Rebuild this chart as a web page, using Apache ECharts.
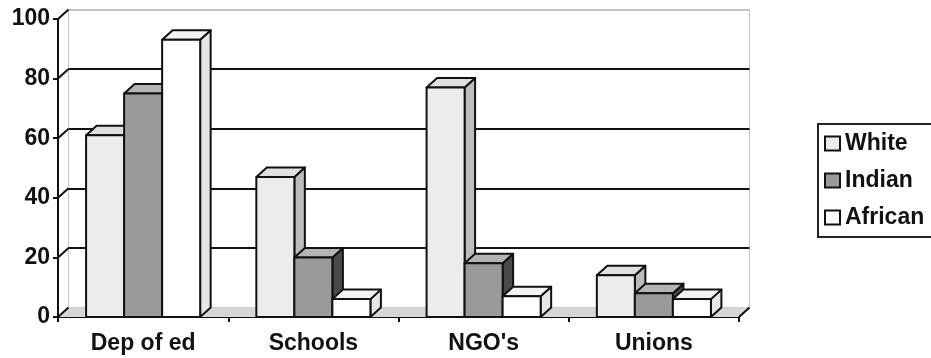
<!DOCTYPE html>
<html>
<head>
<meta charset="utf-8">
<script src="https://cdn.jsdelivr.net/npm/echarts@6/dist/echarts.min.js"></script>
<style>html,body{margin:0;padding:0;background:#fff}#c{width:931px;height:358px}</style>
</head>
<body>
<div id="c"></div>
<script>
// ---- data ----
var categories = ["Dep of ed", "Schools", "NGO's", "Unions"];
var white   = [61, 47, 77, 14];
var indian  = [75, 20, 18, 8];
var african = [93, 6, 7, 6];
var yTicks  = [0, 20, 40, 60, 80, 100];
var seriesNames = ["White", "Indian", "African"];

// ---- styling ----
var FONT = "'Liberation Sans', Arial, sans-serif";
var DX = 10.5, DY = 9.5;
var faces = [
  {front: '#ececec', top: '#e0e0e0', side: '#bcbcbc'},
  {front: '#9a9a9a', top: '#b4b4b4', side: '#4a4a4a'},
  {front: '#ffffff', top: '#f3f3f3', side: '#e6e6e6'}
];
var GROUP = 0.67;

function barRenderer(s) {
  return function (params, api) {
    var cat = api.value(0), val = api.value(1);
    var band = api.size([1, 0])[0];
    var gw = band * GROUP, bw = gw / 3;
    var base = api.coord([cat, 0]);
    var topP = api.coord([cat, val]);
    var x0 = base[0] - gw / 2 + s * bw;
    var yT = topP[1], yB = base[1];
    var f = faces[s];
    var st = {stroke: '#111', lineWidth: 2, lineJoin: 'round'};
    return {
      type: 'group',
      children: [
        {type: 'polygon', shape: {points: [[x0 + bw, yT], [x0 + bw + DX, yT - DY], [x0 + bw + DX, yB - DY], [x0 + bw, yB]]},
          style: Object.assign({fill: f.side}, st)},
        {type: 'polygon', shape: {points: [[x0, yT], [x0 + DX, yT - DY], [x0 + bw + DX, yT - DY], [x0 + bw, yT]]},
          style: Object.assign({fill: f.top}, st)},
        {type: 'rect', shape: {x: x0, y: yT, width: bw, height: yB - yT},
          style: Object.assign({fill: f.front}, st)}
      ]
    };
  };
}

var datasets = [white, indian, african];
var barSeries = datasets.map(function (arr, s) {
  return {
    name: seriesNames[s], type: 'custom', coordinateSystem: 'cartesian2d',
    xAxisIndex: 0, yAxisIndex: 0, z: 5,
    itemStyle: {color: faces[s].front},
    renderItem: barRenderer(s),
    data: arr.map(function (v, i) { return [i, v]; })
  };
});

var chart = echarts.init(document.getElementById('c'), null, {renderer: 'canvas'});
chart.setOption({
  animation: false,
  backgroundColor: '#fff',
  grid: [
    {left: 58, top: 19, width: 681, height: 298, containLabel: false},
    {left: 58 + DX, top: 19 - DY, width: 681, height: 298, show: true,
      borderColor: '#c4c4c4', borderWidth: 1, backgroundColor: 'transparent'}
  ],
  xAxis: [
    {type: 'category', gridIndex: 0, data: categories,
      axisLine: {show: true, lineStyle: {color: '#111', width: 2}},
      axisTick: {show: true, length: 5, lineStyle: {color: '#111', width: 2}},
      axisLabel: {color: '#111', fontFamily: FONT, fontWeight: 'bold', fontSize: 23, margin: 15}},
    {type: 'category', gridIndex: 1, data: categories, show: false}
  ],
  yAxis: [
    {type: 'value', gridIndex: 0, min: 0, max: 100, interval: 20,
      axisLine: {show: true, lineStyle: {color: '#111', width: 2}},
      axisTick: {show: true, length: 5, lineStyle: {color: '#111', width: 2}},
      splitLine: {show: false},
      axisLabel: {color: '#111', fontFamily: FONT, fontWeight: 'bold', fontSize: 23, margin: 8}},
    {type: 'value', gridIndex: 1, min: 0, max: 100, interval: 20,
      axisLine: {show: false}, axisTick: {show: false}, axisLabel: {show: false},
      splitLine: {show: true, lineStyle: {color: ['#c4c4c4', '#111', '#111', '#111', '#111', '#c4c4c4'], width: 2}}}
  ],
  legend: {
    orient: 'vertical', left: 818, top: 124,
    padding: [8, 40, 8, 6],
    itemWidth: 15, itemHeight: 14, itemGap: 14,
    borderColor: '#222', borderWidth: 2,
    icon: 'rect', selectedMode: false,
    textStyle: {color: '#111', fontFamily: FONT, fontWeight: 'bold', fontSize: 23},
    data: seriesNames.map(function (n, s) {
      return {name: n, itemStyle: {color: faces[s].front, borderColor: '#111', borderWidth: 2}};
    })
  },
  series: [
    {type: 'custom', coordinateSystem: 'cartesian2d', xAxisIndex: 0, yAxisIndex: 0, z: 1, silent: true,
      data: [[0, 0]],
      renderItem: function (params, api) {
        var c = params.coordSys;
        var yb = c.y + c.height, xl = c.x, xr = c.x + c.width;
        return {type: 'group', children: [
          {type: 'polygon', shape: {points: [[xl, yb], [xl + DX, yb - DY], [xr + DX, yb - DY], [xr, yb]]},
            style: {fill: '#d6d6d6', stroke: null}},
          {type: 'line', shape: {x1: xr, y1: yb, x2: xr + DX, y2: yb - DY}, style: {stroke: '#111', lineWidth: 2}}
        ]};
      }},
    {type: 'custom', coordinateSystem: 'cartesian2d', xAxisIndex: 0, yAxisIndex: 0, z: 1, silent: true,
      data: yTicks.map(function (v) { return [0, v]; }),
      renderItem: function (params, api) {
        var c = params.coordSys;
        var y = api.coord([0, api.value(1)])[1];
        return {type: 'line', shape: {x1: c.x, y1: y, x2: c.x + DX, y2: y - DY}, style: {stroke: '#111', lineWidth: 2}};
      }}
  ].concat(barSeries)
});
</script>
</body>
</html>
